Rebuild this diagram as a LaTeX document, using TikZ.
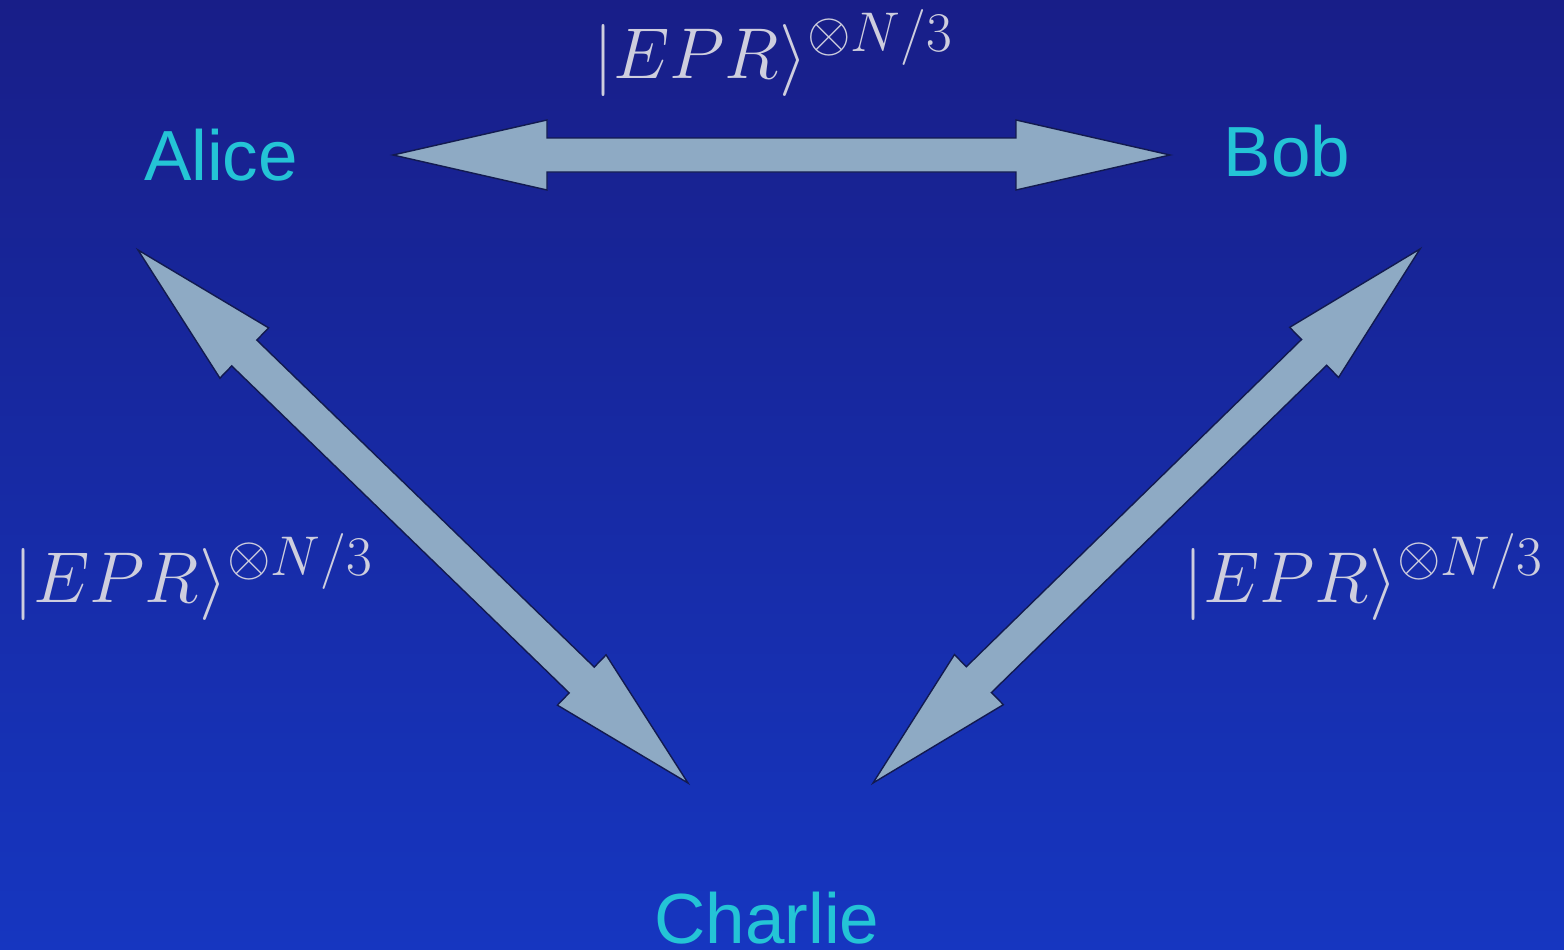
\RequirePackage{fix-cm}
\documentclass[tikz,border=0pt]{standalone}
\usepackage{fontspec}
\setsansfont{Liberation Sans}
\usetikzlibrary{calc}
\DeclareMathSizes{72}{72}{56}{40}

\definecolor{bgtop}{RGB}{24,30,136}
\definecolor{bgbot}{RGB}{22,54,192}
\definecolor{arrowfill}{RGB}{142,170,196}
\definecolor{arrowedge}{RGB}{18,26,80}
\definecolor{namecol}{RGB}{36,196,214}
\definecolor{statecol}{RGB}{206,206,222}

% double-headed block arrow between two named points:
% #1, #2 = end points, #3 = head length, #4 = head half-width, #5 = shaft half-width
\newcommand\dblblockarrow[5]{%
  \coordinate (hA) at ($(#1)!#3!(#2)$);
  \coordinate (hB) at ($(#2)!#3!(#1)$);
  \filldraw[blockarrow]
    (#1)
    -- ($(hA)!#4!90:(#2)$) -- ($(hA)!#5!90:(#2)$)
    -- ($(hB)!#5!-90:(#1)$) -- ($(hB)!#4!-90:(#1)$)
    -- (#2)
    -- ($(hB)!#4!90:(#1)$) -- ($(hB)!#5!90:(#1)$)
    -- ($(hA)!#5!-90:(#2)$) -- ($(hA)!#4!-90:(#2)$)
    -- cycle;
}

\begin{document}
\begin{tikzpicture}[x=1pt,y=-1pt,
  blockarrow/.style={fill=arrowfill,draw=arrowedge,line width=1.4pt,line join=miter},
  party/.style={text=namecol,font=\sffamily\fontsize{71}{80}\selectfont,inner sep=0pt,anchor=base},
  state/.style={text=statecol,font=\fontsize{72}{80}\selectfont,inner sep=0pt,anchor=base west}]

  % background
  \shade[top color=bgtop,bottom color=bgbot] (0,0) rectangle (1564,950);
  \useasboundingbox (0,0) rectangle (1564,950);

  % parties
  \node[party] (alice)   at (221,180) {Alice};
  \node[party] (bob)     at (1287,176) {Bob};
  \node[party] (charlie) at (767,943) {Charlie};

  % arrow end points
  \coordinate (ab1) at (393,155);
  \coordinate (ab2) at (1170,155);
  \coordinate (ac1) at (138,250);
  \coordinate (ac2) at (688,783);
  \coordinate (bc1) at (1420,249);
  \coordinate (bc2) at (873,783);

  % shared EPR pairs
  \dblblockarrow{ab1}{ab2}{154pt}{35pt}{17pt}
  \dblblockarrow{ac1}{ac2}{148pt}{35pt}{18pt}
  \dblblockarrow{bc1}{bc2}{148pt}{35pt}{18pt}

  % state labels
  \node[state] (sab) at (593,78)  {$|EPR\rangle^{\otimes N/3}$};
  \node[state] (sac) at (13,602)  {$|EPR\rangle^{\otimes N/3}$};
  \node[state] (sbc) at (1183,602) {$|EPR\rangle^{\otimes N/3}$};
\end{tikzpicture}
\end{document}
